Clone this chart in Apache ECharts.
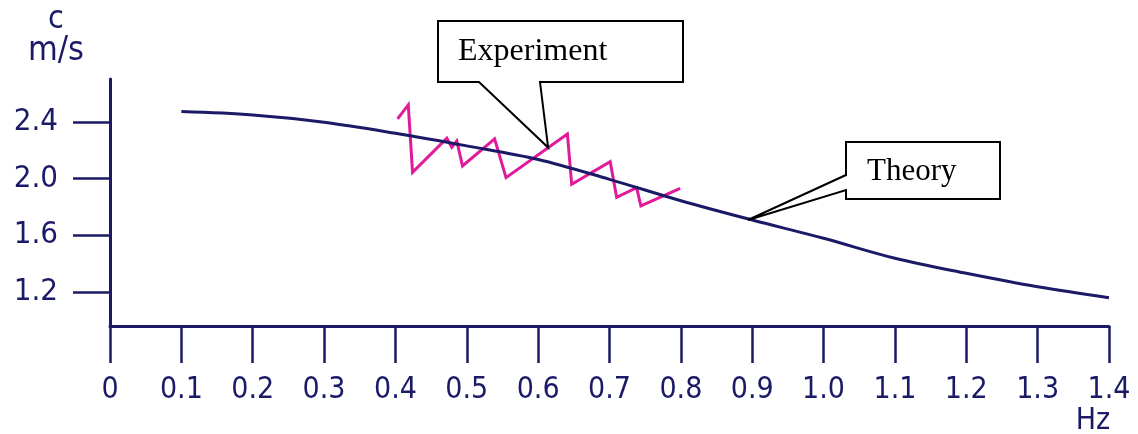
<!DOCTYPE html>
<html>
<head>
<meta charset="utf-8">
<script src="https://cdn.jsdelivr.net/npm/echarts@6/dist/echarts.min.js"></script>
<style>
  html, body { margin: 0; padding: 0; background: #ffffff; }
  #chart { width: 1138px; height: 434px; }
</style>
</head>
<body>
<div id="chart"></div>
<script>
// Wave speed c (m/s) against frequency (Hz)
const theoryFreq  = [0.1, 0.2, 0.3, 0.4, 0.5, 0.6, 0.7, 0.8, 0.9, 1.0, 1.1, 1.2, 1.3, 1.4];
const theorySpeed = [2.473, 2.449, 2.398, 2.320, 2.231, 2.135, 1.995, 1.844, 1.708, 1.579, 1.438, 1.332, 1.237, 1.160];

const experimentFreq  = [0.403, 0.418, 0.424, 0.472, 0.479, 0.486, 0.494, 0.539, 0.555, 0.641, 0.647, 0.701, 0.710, 0.738, 0.744, 0.799];
const experimentSpeed = [2.421, 2.520, 2.045, 2.285, 2.221, 2.266, 2.089, 2.280, 2.007, 2.315, 1.960, 2.120, 1.868, 1.936, 1.807, 1.932];

const yTickValues = [1.2, 1.6, 2.0, 2.4];

// Callout anchor points (frequency, speed) and their captions
const experimentNote = { text: 'Experiment', at: [0.614, 2.219] };
const theoryNote     = { text: 'Theory',     at: [0.894, 1.708] };

const INK = '#1b1a66';
const AXIS_FONT = "'Liberation Sans Narrow', 'DejaVu Sans Condensed', 'Liberation Sans', sans-serif";
const NOTE_FONT = "'Liberation Serif', 'DejaVu Serif', serif";

const zip = (xs, ys) => xs.map((x, i) => [x, ys[i]]);

const chart = echarts.init(document.getElementById('chart'), null, { renderer: 'canvas' });

chart.setOption({
  animation: false,
  backgroundColor: '#ffffff',
  grid: { left: 110, right: 29, top: 79, bottom: 108, containLabel: false },
  xAxis: {
    type: 'value',
    min: 0,
    max: 1.4,
    interval: 0.1,
    axisLine: { show: true, onZero: false, lineStyle: { color: INK, width: 3 } },
    axisTick: { show: true, inside: false, length: 37, lineStyle: { color: INK, width: 2.5 } },
    splitLine: { show: false },
    axisLabel: {
      show: true,
      margin: 49,
      color: INK,
      fontFamily: AXIS_FONT,
      fontSize: 30,
      showMinLabel: true,
      showMaxLabel: true,
      formatter: v => (Math.abs(v) < 1e-9 ? '0' : v.toFixed(1))
    }
  },
  yAxis: {
    type: 'value',
    min: 0.96,
    max: 2.703,
    axisLine: { show: true, onZero: false, lineStyle: { color: INK, width: 3 } },
    axisTick: {
      show: true, inside: false, length: 37,
      customValues: yTickValues,
      lineStyle: { color: INK, width: 2.5 }
    },
    splitLine: { show: false },
    axisLabel: {
      show: true,
      margin: 52,
      color: INK,
      fontFamily: AXIS_FONT,
      fontSize: 31,
      customValues: yTickValues,
      formatter: v => v.toFixed(1)
    }
  },
  series: [
    {
      name: 'Theory',
      type: 'line',
      data: zip(theoryFreq, theorySpeed),
      smooth: 0.35,
      showSymbol: false,
      lineStyle: { color: INK, width: 3 },
      z: 3
    },
    {
      name: 'Experiment',
      type: 'line',
      data: zip(experimentFreq, experimentSpeed),
      smooth: false,
      showSymbol: false,
      lineStyle: { color: '#e01a9a', width: 3, join: 'miter' },
      z: 2
    }
  ]
});

// Speech-bubble callouts pointing at the curves
function bubbleBottom(box, tip, gapL, gapR) {
  return [
    [box.x0, box.y0], [box.x1, box.y0], [box.x1, box.y1],
    [gapR, box.y1], tip, [gapL, box.y1], [box.x0, box.y1]
  ];
}
function bubbleLeft(box, tip, gapT, gapB) {
  return [
    [box.x0, box.y0], [box.x1, box.y0], [box.x1, box.y1], [box.x0, box.y1],
    [box.x0, gapB], tip, [box.x0, gapT]
  ];
}

const expTip = chart.convertToPixel({ gridIndex: 0 }, experimentNote.at);
const thTip  = chart.convertToPixel({ gridIndex: 0 }, theoryNote.at);

const expBox = { x0: 438, y0: 21, x1: 683, y1: 82 };
const thBox  = { x0: 846, y0: 142, x1: 1000, y1: 199 };

const noteShape = { fill: '#ffffff', stroke: '#000000', lineWidth: 2 };

chart.setOption({
  graphic: [
    {
      type: 'polygon', z: 10,
      shape: { points: bubbleBottom(expBox, expTip, 479, 540) },
      style: noteShape
    },
    {
      type: 'text', z: 11, x: 458, y: 52,
      style: { text: experimentNote.text, fill: '#000000', font: '32px ' + NOTE_FONT, verticalAlign: 'middle', align: 'left' }
    },
    {
      type: 'polygon', z: 10,
      shape: { points: bubbleLeft(thBox, thTip, 175, 190) },
      style: noteShape
    },
    {
      type: 'text', z: 11, x: 867, y: 172,
      style: { text: theoryNote.text, fill: '#000000', font: '31px ' + NOTE_FONT, verticalAlign: 'middle', align: 'left' }
    },
    // axis names
    {
      type: 'text', x: 56, y: 20,
      style: { text: 'c', fill: INK, font: '32px ' + AXIS_FONT, align: 'center', verticalAlign: 'middle' }
    },
    {
      type: 'text', x: 56, y: 51,
      style: { text: 'm/s', fill: INK, font: '34px ' + AXIS_FONT, align: 'center', verticalAlign: 'middle' }
    },
    {
      type: 'text', x: 1093, y: 421,
      style: { text: 'Hz', fill: INK, font: '30px ' + AXIS_FONT, align: 'center', verticalAlign: 'middle' }
    }
  ]
});
</script>
</body>
</html>
